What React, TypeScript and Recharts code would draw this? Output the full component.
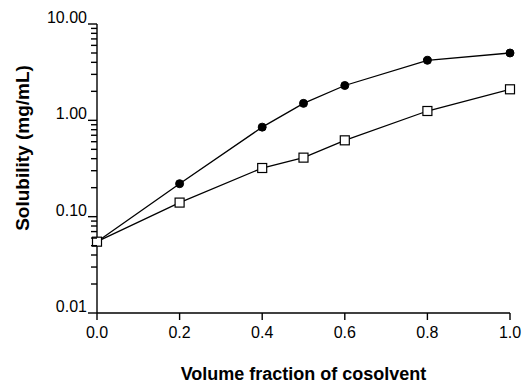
import { Line, LineChart, XAxis, YAxis } from "recharts";

// volume fraction of cosolvent
const fractions = [0, 0.2, 0.4, 0.5, 0.6, 0.8, 1.0];
// solubility, mg/mL
const filledSeries = [0.055, 0.22, 0.85, 1.5, 2.3, 4.2, 5.0];
const openSeries = [0.055, 0.14, 0.32, 0.41, 0.62, 1.25, 2.1];

const xTicks = [0, 0.2, 0.4, 0.6, 0.8, 1.0];
const yMajor = [0.01, 0.1, 1, 10];
const yMinor = [
    0.02, 0.03, 0.04, 0.05, 0.06, 0.07, 0.08, 0.09,
    0.2, 0.3, 0.4, 0.5, 0.6, 0.7, 0.8, 0.9,
    2, 3, 4, 5, 6, 7, 8, 9,
];

const data = fractions.map((f, i) => ({
    x: f,
    filled: filledSeries[i],
    open: openSeries[i],
}));

const FONT = "'Liberation Sans', Arial, sans-serif";

// log axis tick: long tick + label for decades, short tick for the rest
const YTick = (props: any) => {
    const { x, y, payload } = props;
    const major = yMajor.includes(payload.value);
    const len = major ? 9 : 6;
    return (
        <g>
            <path d={`M${x - len},${y}H${x}`} stroke="#000" strokeWidth={1.4} fill="none" />
            {major && (
                <text x={x - 10} y={y - 1} textAnchor="end" fontSize={16} fontFamily={FONT} fill="#000">
                    {payload.value.toFixed(2)}
                </text>
            )}
        </g>
    );
};

const CircleDot = ({ cx, cy }: any) => (
    <circle cx={cx} cy={cy} r={4} fill="#000" stroke="#000" />
);

const SquareDot = ({ cx, cy }: any) => (
    <rect x={cx - 4.5} y={cy - 4.5} width={9} height={9} fill="#fff" stroke="#000" strokeWidth={1.2} />
);

export default function App() {
    return (
        <div style={{ position: "fixed", left: 0, top: 0, width: 524, height: 383, background: "#fff" }}>
            <LineChart
                width={524}
                height={383}
                data={data}
                margin={{ top: 24, right: 14, left: 0, bottom: 0 }}
            >
                <XAxis
                    dataKey="x"
                    type="number"
                    domain={[0, 1]}
                    ticks={xTicks}
                    tickFormatter={(v: number) => v.toFixed(1)}
                    height={70}
                    stroke="#000"
                    strokeWidth={1.4}
                    tickSize={7}
                    tickMargin={7}
                    tick={{ fill: "#000", fontSize: 16, fontFamily: FONT }}
                    label={({ viewBox }: any) => (
                        <text
                            x={viewBox.x + viewBox.width / 2}
                            y={viewBox.y + 67}
                            textAnchor="middle"
                            fontSize={18}
                            fontWeight="bold"
                            fontFamily={FONT}
                            fill="#000"
                        >
                            Volume fraction of cosolvent
                        </text>
                    )}
                />
                <YAxis
                    type="number"
                    scale="log"
                    domain={[0.01, 10]}
                    allowDataOverflow
                    ticks={[...yMajor, ...yMinor].sort((a, b) => a - b)}
                    interval={0}
                    width={97}
                    stroke="#000"
                    strokeWidth={1.4}
                    tickLine={false}
                    tickSize={0}
                    tickMargin={0}
                    tick={<YTick />}
                    label={({ viewBox }: any) => (
                        <text
                            x={0}
                            y={0}
                            transform={`translate(29, ${viewBox.y + 124}) rotate(-90)`}
                            textAnchor="middle"
                            fontSize={19}
                            fontWeight="bold"
                            fontFamily={FONT}
                            fill="#000"
                        >
                            Solubility (mg/mL)
                        </text>
                    )}
                />
                <Line
                    dataKey="filled"
                    type="linear"
                    stroke="#000"
                    strokeWidth={1.3}
                    dot={<CircleDot />}
                    activeDot={false}
                    isAnimationActive={false}
                />
                <Line
                    dataKey="open"
                    type="linear"
                    stroke="#000"
                    strokeWidth={1.3}
                    dot={<SquareDot />}
                    activeDot={false}
                    isAnimationActive={false}
                />
            </LineChart>
        </div>
    );
}
